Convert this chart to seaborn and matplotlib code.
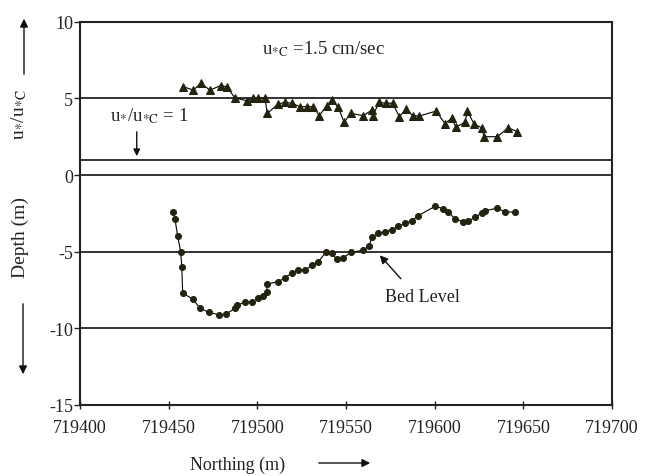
import matplotlib
matplotlib.use("Agg")
import matplotlib.pyplot as plt
from matplotlib.patches import FancyArrowPatch
import seaborn as sns
import pandas as pd

# ---- data ----
north_ratio = [719458.3, 719463.9, 719468.1, 719473.3, 719479.3, 719482.7, 719487.4, 719494.0,
               719497.4, 719500.6, 719504.3, 719505.6, 719511.8, 719515.6, 719519.4, 719524.1,
               719527.8, 719531.6, 719534.9, 719539.1, 719541.9, 719545.7, 719548.9, 719552.7,
               719559.8, 719564.5, 719565.0, 719568.8, 719572.6, 719576.3, 719580.1, 719583.8,
               719587.6, 719591.3, 719600.8, 719605.8, 719609.6, 719612.0, 719617.1, 719618.4,
               719622.2, 719626.5, 719627.8, 719635.3, 719641.5, 719646.6]
ratio = [5.76, 5.54, 5.98, 5.54, 5.83, 5.76, 5.02, 4.85,
         5.02, 5.02, 5.02, 4.02, 4.63, 4.74, 4.68, 4.46,
         4.46, 4.46, 3.87, 4.52, 4.89, 4.41, 3.44, 4.02,
         3.87, 4.24, 3.87, 4.74, 4.68, 4.68, 3.80, 4.30,
         3.87, 3.85, 4.17, 3.36, 3.70, 3.13, 3.44, 4.18,
         3.33, 3.08, 2.50, 2.50, 3.08, 2.83]

north_depth = [719452.3, 719453.6, 719455.1, 719456.8, 719457.4, 719457.9, 719463.7, 719467.7,
               719472.9, 719478.6, 719482.3, 719487.4, 719488.4, 719493.0, 719496.8, 719500.6,
               719503.4, 719505.3, 719505.6, 719511.8, 719515.6, 719519.4, 719523.1, 719526.9,
               719530.7, 719534.4, 719538.7, 719541.9, 719544.8, 719548.5, 719552.7, 719559.8,
               719563.1, 719564.5, 719568.2, 719572.0, 719575.8, 719579.5, 719583.3, 719587.1,
               719590.8, 719600.2, 719604.9, 719607.7, 719611.5, 719616.2, 719619.0, 719622.8,
               719626.5, 719628.4, 719635.0, 719639.7, 719645.3]
depth = [-2.4, -2.9, -4.0, -5.0, -6.0, -7.7, -8.1, -8.7,
         -8.96, -9.13, -9.07, -8.7, -8.5, -8.3, -8.3, -8.04,
         -7.9, -7.6, -7.1, -6.96, -6.7, -6.4, -6.2, -6.2,
         -5.9, -5.65, -5.04, -5.1, -5.5, -5.4, -5.05, -4.9,
         -4.6, -4.07, -3.8, -3.7, -3.57, -3.35, -3.15, -2.98,
         -2.65, -2.04, -2.2, -2.4, -2.87, -3.04, -2.98, -2.76,
         -2.48, -2.33, -2.17, -2.39, -2.43]

ref_lines = [5, 1, 0, -5, -10]
x_ticks = [719400, 719450, 719500, 719550, 719600, 719650, 719700]
y_ticks = [10, 5, 0, -5, -10, -15]

# ---- style ----
sns.set_theme(style="white")
plt.rcParams["font.family"] = ["Liberation Serif", "DejaVu Serif"]
plt.rcParams["mathtext.fontset"] = "stix"

txt = "#222222"
fig = plt.figure(figsize=(6.53, 4.77), dpi=100)
ax = fig.add_axes([80/653, 1-406/477, (612-80)/653, (406-22.7)/477])

for r in ref_lines:
    ax.axhline(r, color="#333333", lw=1.4, zorder=1)

mk_col = "#23230f"
df_r = pd.DataFrame({"n": north_ratio, "v": ratio})
df_d = pd.DataFrame({"n": north_depth, "v": depth})
sns.lineplot(data=df_r, x="n", y="v", sort=False, ax=ax, color="black", lw=0.8,
             marker="^", markersize=5.3, markerfacecolor=mk_col, markeredgecolor=mk_col, zorder=3)
sns.lineplot(data=df_d, x="n", y="v", sort=False, ax=ax, color="black", lw=0.8,
             marker="o", markersize=4.3, markerfacecolor=mk_col, markeredgecolor=mk_col, zorder=3)

ax.set_xlim(719400, 719700)
ax.set_ylim(-15, 10)
ax.set_xticks(x_ticks)
ax.set_yticks(y_ticks)
ax.set_xticklabels([str(t) for t in x_ticks])
ax.set_yticklabels([str(t) for t in y_ticks])
ax.set_xlabel("")
ax.set_ylabel("")
ax.tick_params(axis="x", direction="inout", length=6, width=1, labelsize=13, pad=7, colors=txt)
ax.tick_params(axis="y", direction="out", length=4, width=1, labelsize=13, pad=1, colors=txt)
ax.tick_params(left=True, bottom=True)
for s in ax.spines.values():
    s.set_color("#222222")
    s.set_linewidth(1.5)

# annotations
ax.text(719537, 8.3, r"u$_{*\mathrm{C}}$ =1.5 cm/sec", ha="center", va="center", fontsize=13.5, color=txt)
ax.text(719417, 3.9, r"u$_{*}$/u$_{*\mathrm{C}}$ = 1", ha="left", va="center", fontsize=13.5, color=txt)
ax.annotate("", xy=(719432, 1.05), xytext=(719432, 3.0),
            arrowprops=dict(arrowstyle="-|>", color="#111111", lw=1, mutation_scale=10))
ax.text(719593, -7.95, "Bed Level", ha="center", va="center", fontsize=13, color=txt)
ax.annotate("", xy=(719568, -5.1), xytext=(719582, -6.9),
            arrowprops=dict(arrowstyle="-|>", color="#111111", lw=1, mutation_scale=12))

# axis labels with arrows (figure coordinates)
fig.text(19/653, 1-115/477, r"u$_{*}$/u$_{*\mathrm{C}}$", rotation=90, ha="center", va="center",
         fontsize=14, color=txt)
fig.add_artist(FancyArrowPatch((24/653, 1-78/477), (24/653, 1-17/477),
               transform=fig.transFigure, arrowstyle="-|>", mutation_scale=12, color="#111111", lw=1))
fig.text(20/653, 1-237/477, "Depth (m)", rotation=90, ha="center", va="center",
         fontsize=14, color=txt)
fig.add_artist(FancyArrowPatch((23/653, 1-302/477), (23/653, 1-378/477),
               transform=fig.transFigure, arrowstyle="-|>", mutation_scale=12, color="#111111", lw=1))
fig.text(238/653, 1-465/477, "Northing (m)", ha="center", va="center", fontsize=13, color=txt)
fig.add_artist(FancyArrowPatch((316/653, 1-464/477), (373/653, 1-464/477),
               transform=fig.transFigure, arrowstyle="-|>", mutation_scale=12, color="#111111", lw=1))

fig.savefig("out.png", dpi=100)
